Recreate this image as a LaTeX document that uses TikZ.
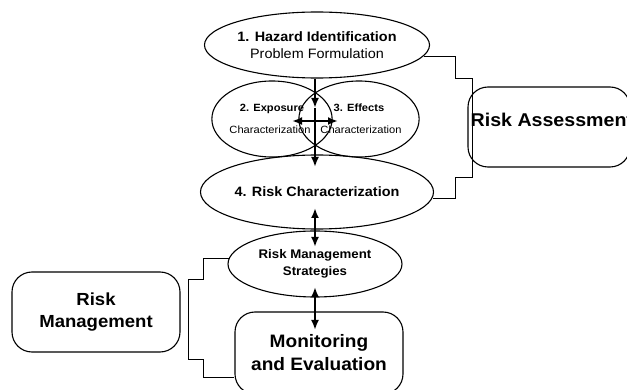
\documentclass[tikz,border=0pt]{standalone}
\usepackage{fontspec}
\setmainfont{Liberation Sans}[FakeStretch=1.06]
\usetikzlibrary{shapes.geometric,arrows.meta,calc}
\begin{document}
\begin{tikzpicture}[x=1pt,y=-1pt,
  ell/.style={draw, ellipse, line width=1.1pt, inner sep=0pt, align=center},
  rbox/.style={draw, rectangle, rounded corners=20pt, line width=1.1pt, inner sep=0pt, align=center},
  arr/.style={line width=2pt, -{Latex[length=10pt,width=8pt]}},
  darr/.style={line width=2pt, {Latex[length=10pt,width=8pt]}-{Latex[length=10pt,width=8pt]}},
  brk/.style={line width=0.9pt}
]
\useasboundingbox (0,0) rectangle (627,390);

\node[ell, minimum width=174pt, minimum height=66pt, font=\fontsize{13.6}{17}\selectfont] (e1) at (317,45)
  {\textbf{1. Hazard Identification}\\ Problem Formulation};
\node[ell, minimum width=94pt, minimum height=76pt, font=\fontsize{10.5}{22}\selectfont] (e2) at (272,119)
  {\textbf{2. Exposure}\\ Characterization\hspace*{4pt}};
\node[ell, minimum width=100pt, minimum height=76pt, font=\fontsize{10.5}{22}\selectfont] (e3) at (359,119)
  {\textbf{3. Effects}\\ \hspace*{4pt}Characterization};
\node[ell, minimum width=180pt, minimum height=74pt, font=\fontsize{13.6}{17}\selectfont\bfseries] (e4) at (317,192)
  {4. Risk Characterization};
\node[ell, minimum width=174pt, minimum height=66pt, font=\fontsize{12.5}{17}\selectfont\bfseries] (e5) at (315,264)
  {Risk Management\\ Strategies};

\node[rbox, minimum width=168pt, minimum height=82pt, font=\fontsize{18}{23}\selectfont\bfseries] (me) at (319,353)
  {Monitoring\\ and Evaluation};
\node[rbox, minimum width=168pt, minimum height=80pt, font=\fontsize{17.5}{22}\selectfont\bfseries] (rm) at (96,312)
  {Risk\\ Management};
\node[rbox, minimum width=162pt, minimum height=80pt] (ra) at (549,127) {};
\node[anchor=west, inner sep=0pt, font=\fontsize{18.5}{22}\selectfont\bfseries] (ratext) at ($(ra.west)+(3,-7)$)
  {Risk Assessment};

% arrows
\coordinate (t1) at (315,108);
\coordinate (t2) at (315,167);
\coordinate (hl) at (292,121);
\coordinate (hr) at (338,121);
\coordinate (u1) at (315,208);
\coordinate (u2) at (315,247);
\coordinate (v1) at (315,287);
\coordinate (v2) at (315,330);
\draw[arr] (e1.south -| t1) -- (t1);
\draw[arr] (t1) -- (t2);
\draw[darr] (hl) -- (hr);
\draw[darr] (u1) -- (u2);
\draw[darr] (v1) -- (v2);

% brackets
\draw[brk] (e1.-6) -- ++(32,0) -- ++(0,22) -- ++(17,0) -- ++(0,99) -- ++(-17,0) |- (e4.-3);
\draw[brk] (e5.176) -- ++(-25,0) -- ++(0,21) -- ++(-15,0) -- ++(0,80) -- ++(15,0) |- ($(me.west)+(0,24)$);
\end{tikzpicture}
\end{document}
